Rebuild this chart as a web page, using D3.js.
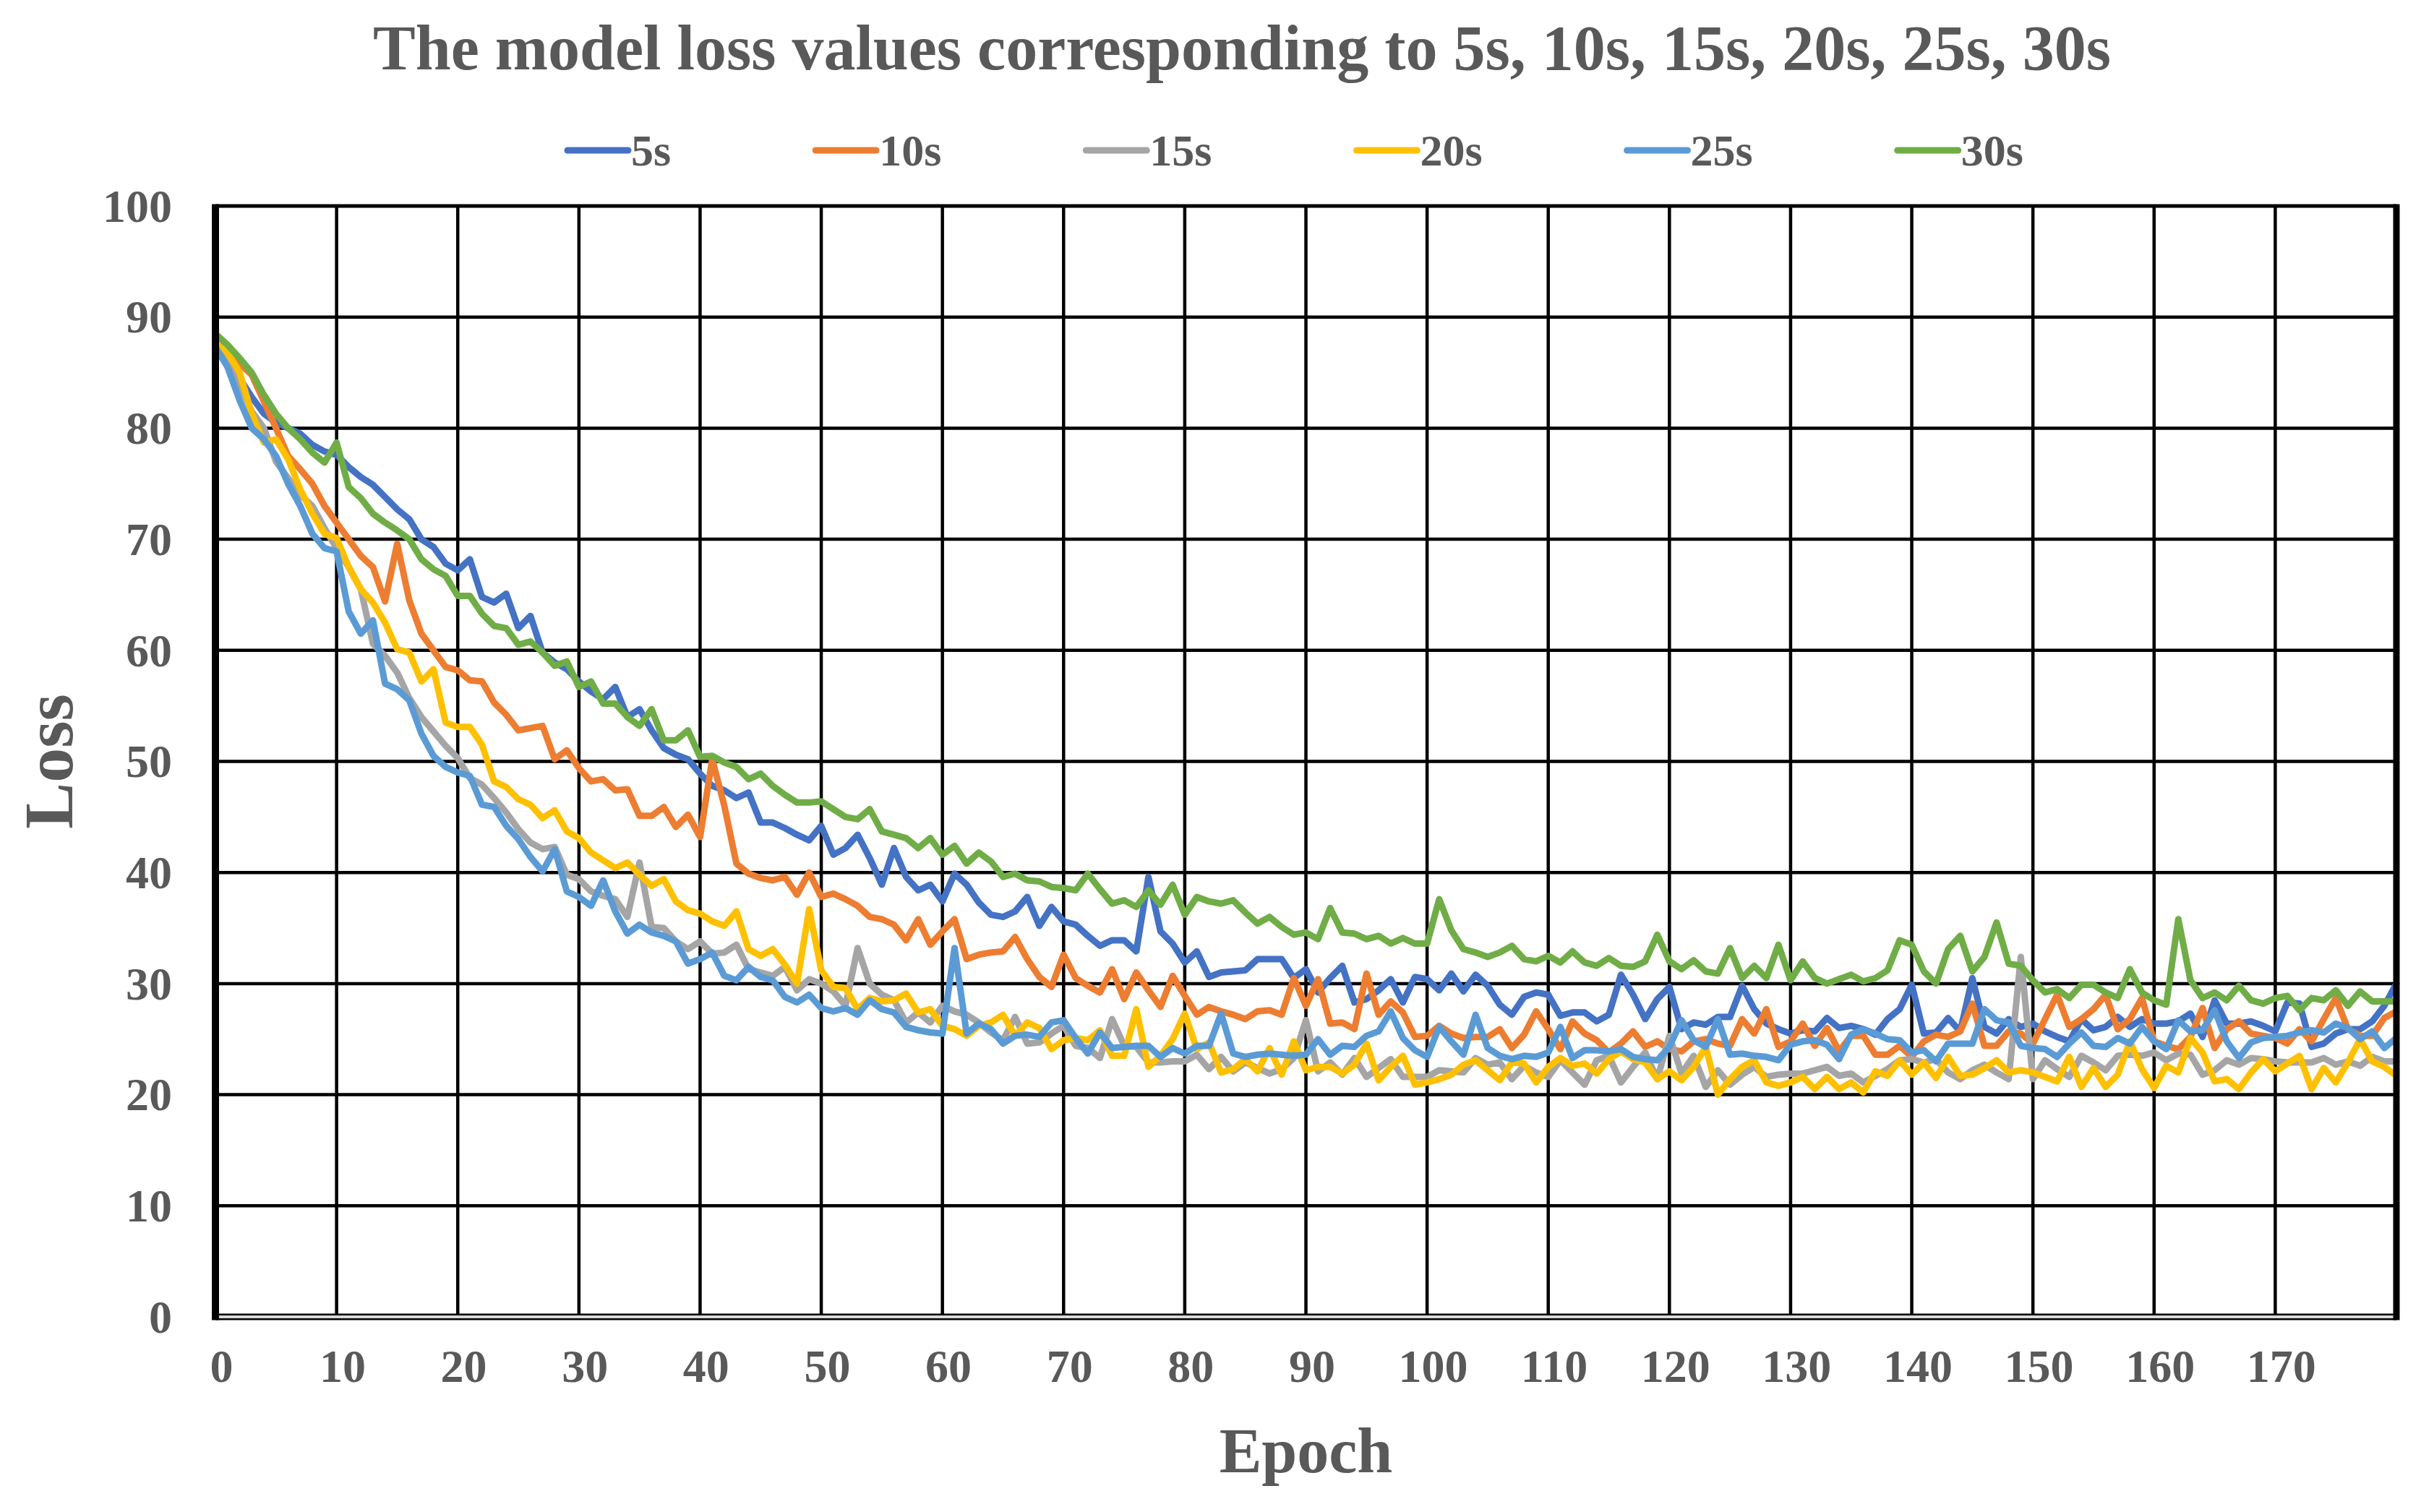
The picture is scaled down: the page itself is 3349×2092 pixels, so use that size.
<!DOCTYPE html>
<html>
<head>
<meta charset="utf-8">
<script src="https://cdn.jsdelivr.net/npm/d3@7"></script>
<style>
  html, body { margin: 0; padding: 0; background: #ffffff; }
  svg { display: block; }
  text { font-family: "Liberation Serif", "Times New Roman", serif; font-weight: bold; fill: #595959; }
</style>
</head>
<body>
<div id="chart"></div>
<script>
// series names and colours (legend order)
var seriesNames = ['5s', '10s', '15s', '20s', '25s', '30s'];
var seriesColors = ['#4472C4', '#ED7D31', '#A5A5A5', '#FFC000', '#5B9BD5', '#70AD47'];

// loss per epoch
var loss5s = [
  87.5, 86.5, 84.5, 82.8, 81.3, 80.5, 80, 79.5, 78.5, 77.9,
  77.6, 76.5, 75.6, 74.9, 73.8, 72.7, 71.8, 70, 69.3, 67.8,
  67.2, 68.2, 64.8, 64.3, 65.1, 62, 63.1, 59.8, 58.9, 58.3,
  57.2, 56.3, 55.6, 56.7, 54, 54.7, 52.8, 51.2, 50.6, 50.2,
  48.9, 47.8, 47.4, 46.7, 47.2, 44.5, 44.5, 44, 43.4, 42.9,
  44.2, 41.6, 42.2, 43.4, 41.3, 38.9, 42.2, 39.6, 38.4, 38.9,
  37.4, 39.9, 38.9, 37.3, 36.2, 36, 36.5, 37.8, 35.2, 36.9,
  35.6, 35.3, 34.3, 33.4, 33.9, 33.9, 32.9, 39.6, 34.7, 33.6,
  31.9, 32.9, 30.6, 31, 31.1, 31.2, 32.2, 32.2, 32.2, 30.5,
  31.3, 29.2, 30.5, 31.6, 28.3, 28.6, 29.4, 30.4, 28.3, 30.6,
  30.4, 29.4, 30.9, 29.3, 30.8, 29.8, 28.1, 27.2, 28.8, 29.2,
  29, 27.1, 27.4, 27.4, 26.6, 27.2, 30.8, 29, 26.8, 28.6,
  29.7, 25.9, 26.5, 26.3, 27, 27, 29.8, 27.7, 26.4, 25.9,
  25.5, 25.8, 25.7, 26.9, 26, 26.2, 25.9, 25.4, 26.8, 27.7,
  29.9, 25.5, 25.6, 26.9, 25.7, 30.5, 26.1, 25.5, 26.8, 26.1,
  26.4, 25.7, 25.2, 24.8, 26.8, 25.8, 26.1, 27, 26.1, 26.8,
  26.4, 26.4, 26.6, 27.3, 25.2, 28.5, 26.4, 26.4, 26.6, 26.2,
  25.7, 28.3, 28.2, 24.3, 24.6, 25.5, 25.9, 25.9, 26.6, 28, 30
];
var loss10s = [
  87.7, 87, 85.8, 84.8, 82.4, 80, 77.5, 76.3, 75, 73,
  71.5, 70, 68.5, 67.5, 64.4, 69.6, 64.5, 61.5, 60, 58.5,
  58.2, 57.3, 57.2, 55.3, 54.2, 52.8, 53, 53.2, 50.2, 51,
  49.4, 48.2, 48.4, 47.4, 47.5, 45.1, 45.1, 45.9, 44.1, 45.2,
  43.2, 50.2, 46, 40.8, 39.9, 39.5, 39.3, 39.6, 38, 40,
  37.8, 38.1, 37.6, 37, 36, 35.8, 35.3, 33.9, 35.8, 33.5,
  34.7, 35.8, 32.2, 32.6, 32.8, 32.9, 34.2, 32.2, 30.6, 29.7,
  32.6, 30.5, 29.8, 29.2, 31.3, 28.6, 31, 29.4, 27.9, 30.7,
  28.9, 27.2, 27.9, 27.5, 27.2, 26.8, 27.5, 27.6, 27.2, 30.5,
  28, 30.4, 26.4, 26.5, 25.9, 30.9, 27.2, 28.4, 27.4, 25.2,
  25.3, 26.2, 25.5, 25.1, 25.2, 25.2, 25.9, 24.2, 25.4, 27.5,
  25.9, 24.1, 26.6, 25.5, 24.9, 23.8, 24.6, 25.7, 24.3, 24.8,
  24.1, 23.9, 24.8, 25, 24.6, 24.4, 26.8, 25.5, 27.7, 24.3,
  24.8, 26.4, 24.4, 26, 23.9, 25.3, 25.3, 23.6, 23.6, 24.4,
  23.4, 24.8, 25.4, 25.2, 25.7, 28.2, 24.4, 24.4, 25.7, 25.5,
  24.6, 26.8, 29, 26.1, 26.8, 27.7, 29, 25.9, 26.8, 28.7,
  24.8, 24.4, 24.1, 25.2, 27.8, 24.2, 25.9, 26.6, 25.5, 25.3,
  25.1, 24.6, 25.9, 24.8, 26.8, 28.7, 25.9, 25.3, 25.3, 26.9, 27.5
];
var loss15s = [
  87.5, 86, 84, 81.5, 80, 77, 75.5, 74, 73, 71,
  69.2, 67.5, 65.5, 60.6, 59.5, 58, 55.7, 54, 52.7, 51.4,
  50.3, 48.5, 47.9, 46.7, 45.4, 43.9, 42.7, 42.1, 42.3, 39.8,
  39.4, 38.3, 37.9, 37.6, 36, 40.9, 35.1, 35, 33.8, 33.1,
  33.8, 32.7, 32.8, 33.5, 31.3, 31, 30.7, 31.5, 29.4, 30.4,
  30, 29.3, 28, 33.2, 30, 29, 28.5, 26.5, 27.4, 26.5,
  28, 27.5, 27.2, 26.5, 25.6, 24.9, 27, 24.6, 24.7, 25.5,
  26.2, 24.4, 24.2, 23.3, 26.8, 24.4, 24.3, 22.9, 22.9, 23,
  23, 23.6, 22.3, 23.4, 22.1, 22.9, 22.4, 21.9, 22.3, 23.3,
  26.7, 22.1, 22.9, 21.8, 23.3, 21.6, 22.4, 23.2, 21.6, 21.6,
  21.6, 22.2, 22.1, 22, 23.3, 22.7, 22.9, 21.4, 22.6, 22,
  21.6, 23.1, 22, 20.9, 23.1, 23.5, 21.1, 22.5, 23.8, 21.4,
  25.3, 21.9, 23.5, 20.7, 22.2, 20.9, 21.8, 22.5, 21.6, 21.8,
  21.9, 21.9, 22.2, 22.5, 21.7, 21.9, 21.1, 21.7, 22.3, 23.1,
  23.2, 22.9, 23.2, 22, 21.4, 22.2, 22.7, 22, 21.4, 32.4,
  21.4, 23.1, 22.3, 21.6, 23.5, 22.9, 22.2, 23.5, 23.6, 23.5,
  23.8, 23.1, 23.7, 23.6, 21.8, 22.2, 23.1, 22.7, 23.3, 23.2,
  23, 22.9, 22.9, 22.9, 23.3, 22.7, 23, 22.6, 23.4, 23, 23
];
var loss20s = [
  88, 86.8, 85, 81.3, 78.7, 79, 77.2, 74.5, 72.3, 70.5,
  70.1, 67.5, 65.5, 64.3, 62.5, 60.1, 59.8, 57.2, 58.3, 53.5,
  53.1, 53.1, 51.5, 48.2, 47.7, 46.6, 46.1, 44.9, 45.6, 43.7,
  43.1, 41.8, 41.1, 40.4, 40.9, 39.8, 38.8, 39.4, 37.4, 36.6,
  36.3, 35.6, 35.2, 36.5, 33.1, 32.5, 33.1, 31.7, 30, 36.7,
  31.2, 29.7, 29.6, 27.7, 28.7, 28.4, 28.5, 29.1, 27.4, 27.7,
  26.2, 25.9, 25.3, 26.2, 26.5, 27.2, 25.3, 26.5, 26, 24.1,
  24.9, 25.1, 24.9, 25.8, 23.5, 23.5, 27.7, 22.5, 23.5, 25,
  27.3, 24.1, 24.7, 22, 22.3, 23.2, 22.1, 24.2, 21.8, 24.8,
  22.2, 22.5, 22.5, 21.9, 22.7, 24.6, 21.3, 22.5, 23.5, 20.9,
  21.1, 21.4, 21.8, 22.7, 23.1, 22.2, 21.3, 22.9, 22.8, 21.1,
  22.5, 23.3, 22.6, 22.8, 21.9, 23.2, 23.9, 23.2, 22.9, 21.4,
  22.1, 21.3, 22.5, 24.3, 20, 21.4, 22.5, 23.1, 21.1, 20.8,
  21.1, 21.6, 20.5, 21.6, 20.5, 21.1, 20.2, 22.1, 21.7, 23.1,
  21.8, 22.9, 21.5, 23.4, 21.7, 21.8, 22.4, 23.1, 22, 22.2,
  22, 21.6, 21.2, 23.4, 20.7, 22.4, 20.7, 21.8, 24.8, 22.3,
  20.6, 22.6, 22, 25.1, 23.8, 21.2, 21.4, 20.5, 22, 23.2,
  22.1, 22.8, 23.5, 20.5, 22.4, 21.1, 22.9, 25, 23, 22.5, 21.7
];
var loss25s = [
  87.3, 85.5, 82.5, 80, 79, 77.5, 75, 73, 70.5, 69.2,
  68.9, 63.5, 61.5, 62.7, 57, 56.5, 55.5, 52.5, 50.5, 49.5,
  49, 48.7, 46.1, 45.9, 44.2, 43, 41.4, 40.1, 42.1, 38.3,
  37.8, 37, 39.3, 36.5, 34.5, 35.3, 34.6, 34.3, 33.8, 31.8,
  32.2, 32.8, 30.7, 30.3, 31.5, 30.6, 30.3, 28.8, 28.3, 29,
  27.8, 27.5, 27.8, 27.2, 28.5, 27.7, 27.4, 26.1, 25.8, 25.6,
  25.5, 33.2, 25.5, 26.4, 25.9, 24.6, 25.3, 25.4, 25.2, 26.5,
  26.7, 25.1, 23.7, 25.6, 24.2, 24.3, 24.4, 24.4, 23.4, 24.2,
  23.7, 24.4, 24.4, 27.3, 23.7, 23.4, 23.6, 23.7, 23.6, 23.5,
  23.6, 25, 23.6, 24.4, 24.3, 25.3, 25.7, 27.5, 25.1, 24,
  23.4, 26.1, 24.8, 23.6, 27.2, 24.2, 23.5, 23.2, 23.5, 23.4,
  23.8, 26.1, 23.3, 24, 24, 23.9, 24.1, 23.4, 23.2, 23.1,
  24.3, 26.7, 24.9, 24.3, 26.8, 23.6, 23.7, 23.5, 23.4, 23.1,
  24.5, 24.8, 24.9, 24.5, 23.2, 25.4, 25.9, 25.5, 25, 24.9,
  23.8, 24, 23, 24.6, 24.6, 24.6, 27.7, 26.7, 26.5, 24.4,
  24.2, 24.1, 23.4, 24.6, 25.6, 24.4, 24.3, 25.1, 24.6, 26.1,
  24.8, 24.1, 26.7, 25.7, 25.8, 27.6, 24.8, 23.3, 24.7, 25.1,
  25.2, 25.3, 25.6, 25.8, 25.6, 26.4, 26, 25, 25.7, 24.2, 25.1
];
var loss30s = [
  88.5, 87.5, 86.3, 85, 83, 81.3, 80, 79, 77.8, 76.9,
  78.7, 74.7, 73.7, 72.3, 71.5, 70.8, 70, 68.2, 67.3, 66.7,
  64.9, 64.9, 63.3, 62.2, 62, 60.5, 60.8, 59.8, 58.6, 59,
  56.7, 57.2, 55.2, 55.2, 54, 53.2, 54.7, 51.9, 51.9, 52.8,
  50.4, 50.5, 49.9, 49.5, 48.4, 48.9, 47.8, 47, 46.3, 46.3,
  46.4, 45.7, 45, 44.8, 45.7, 43.7, 43.4, 43.1, 42.2, 43.1,
  41.6, 42.4, 40.8, 41.8, 41, 39.6, 39.9, 39.3, 39.2, 38.7,
  38.6, 38.4, 39.9, 38.5, 37.2, 37.5, 36.9, 38.4, 37.1, 38.9,
  36.2, 37.8, 37.4, 37.2, 37.5, 36.4, 35.4, 36, 35.1, 34.4,
  34.6, 34, 36.8, 34.6, 34.5, 34, 34.3, 33.6, 34.1, 33.6,
  33.6, 37.6, 34.8, 33.1, 32.8, 32.4, 32.8, 33.4, 32.2, 32,
  32.5, 31.9, 32.9, 31.9, 31.6, 32.3, 31.6, 31.5, 32, 34.4,
  32, 31.3, 32.1, 31.1, 30.9, 33.2, 30.5, 31.6, 30.5, 33.5,
  30.3, 32, 30.5, 30, 30.4, 30.8, 30.2, 30.5, 31.2, 33.9,
  33.5, 31.1, 30, 33.1, 34.3, 31.1, 32.4, 35.5, 31.8, 31.6,
  30.3, 29.2, 29.5, 28.7, 29.9, 29.9, 29.2, 28.7, 31.3, 29.2,
  28.5, 28.1, 35.8, 30.3, 28.7, 29.2, 28.5, 29.8, 28.5, 28.2,
  28.7, 28.9, 27.6, 28.7, 28.5, 29.4, 28, 29.3, 28.4, 28.4, 28.4
];

// axis ticks
var xTickLabels = [0, 10, 20, 30, 40, 50, 60, 70, 80, 90, 100, 110, 120, 130, 140, 150, 160, 170];
var yTickLabels = [0, 10, 20, 30, 40, 50, 60, 70, 80, 90, 100];

var allSeries = [loss5s, loss10s, loss15s, loss20s, loss25s, loss30s];

// svg area
var svgWidth = 3349;
var svgHeight = 2092;

var plot = { left: 298, right: 3315, top: 285, bottom: 1822 };

var svg = d3.select('#chart')
  .append('svg')
  .attr('width', svgWidth)
  .attr('height', svgHeight);

svg.append('rect')
  .attr('width', svgWidth)
  .attr('height', svgHeight)
  .attr('fill', '#ffffff');

// scales
var xScale = d3.scaleLinear()
  .domain([0, loss5s.length - 1])
  .range([plot.left, plot.right]);

var yScale = d3.scaleLinear()
  .domain([0, 100])
  .range([plot.bottom, plot.top]);

var gridGroup = svg.append('g');

// horizontal gridlines
gridGroup.selectAll('.hgrid')
  .data(yTickLabels.filter(d => d > 0 && d < 100))
  .enter()
  .append('line')
  .attr('x1', plot.left)
  .attr('x2', plot.right)
  .attr('y1', d => yScale(d))
  .attr('y2', d => yScale(d))
  .attr('stroke', '#000')
  .attr('stroke-width', 4.5);

// vertical gridlines
gridGroup.selectAll('.vgrid')
  .data(xTickLabels.filter(d => d > 0))
  .enter()
  .append('line')
  .attr('x1', d => xScale(d))
  .attr('x2', d => xScale(d))
  .attr('y1', plot.top)
  .attr('y2', plot.bottom)
  .attr('stroke', '#000')
  .attr('stroke-width', 4.5);

// top border
gridGroup.append('line')
  .attr('x1', plot.left).attr('x2', plot.right)
  .attr('y1', yScale(100)).attr('y2', yScale(100))
  .attr('stroke', '#000').attr('stroke-width', 5);

// series lines
var line = d3.line()
  .x((d, i) => xScale(i))
  .y(d => yScale(d));

svg.append('g')
  .selectAll('path')
  .data(allSeries)
  .enter()
  .append('path')
  .attr('d', d => line(d))
  .attr('fill', 'none')
  .attr('stroke', (d, i) => seriesColors[i])
  .attr('stroke-width', 9)
  .attr('stroke-linejoin', 'round')
  .attr('stroke-linecap', 'round');

// bottom axis line (black with light grey core)
svg.append('line')
  .attr('x1', plot.left).attr('x2', plot.right)
  .attr('y1', yScale(0)).attr('y2', yScale(0))
  .attr('stroke', '#000').attr('stroke-width', 9);
svg.append('line')
  .attr('x1', plot.left).attr('x2', plot.right)
  .attr('y1', yScale(0)).attr('y2', yScale(0))
  .attr('stroke', '#d9d9d9').attr('stroke-width', 4);

// left and right borders
svg.append('line')
  .attr('x1', plot.left).attr('x2', plot.left)
  .attr('y1', plot.top - 2.5).attr('y2', plot.bottom + 4.5)
  .attr('stroke', '#000').attr('stroke-width', 10);
svg.append('line')
  .attr('x1', plot.right).attr('x2', plot.right)
  .attr('y1', plot.top - 2.5).attr('y2', plot.bottom + 4.5)
  .attr('stroke', '#000').attr('stroke-width', 9);

// y tick labels
svg.append('g')
  .selectAll('text')
  .data(yTickLabels)
  .enter()
  .append('text')
  .attr('x', 238)
  .attr('y', d => yScale(d))
  .attr('dy', '0.34em')
  .attr('text-anchor', 'end')
  .style('font-size', '64px')
  .text(d => d);

// x tick labels (centred on the category, like the original)
svg.append('g')
  .selectAll('text')
  .data(xTickLabels)
  .enter()
  .append('text')
  .attr('x', d => xScale(d + 0.5))
  .attr('y', 1912)
  .attr('text-anchor', 'middle')
  .style('font-size', '64px')
  .text(d => d);

// axis titles
svg.append('text')
  .attr('x', (plot.left + plot.right) / 2)
  .attr('y', 2037)
  .attr('text-anchor', 'middle')
  .style('font-size', '88px')
  .text('Epoch');

svg.append('text')
  .attr('transform', `translate(100, ${(plot.top + plot.bottom) / 2}) rotate(-90)`)
  .attr('text-anchor', 'middle')
  .style('font-size', '96px')
  .text('Loss');

// chart title
svg.append('text')
  .attr('x', 1718)
  .attr('y', 96)
  .attr('text-anchor', 'middle')
  .style('font-size', '88px')
  .text('The model loss values corresponding to 5s, 10s, 15s, 20s, 25s, 30s');

// legend
var legendGroup = svg.append('g');
var legendX = 781;
seriesNames.forEach(function(name, i) {
  var item = legendGroup.append('g')
    .attr('transform', `translate(${legendX}, 208)`);
  item.append('line')
    .attr('x1', 4).attr('x2', 88)
    .attr('y1', 0).attr('y2', 0)
    .attr('stroke', seriesColors[i])
    .attr('stroke-width', 9)
    .attr('stroke-linecap', 'round');
  var label = item.append('text')
    .attr('x', 92)
    .attr('y', 21)
    .style('font-size', '62px')
    .text(name);
  legendX += 92 + label.node().getComputedTextLength() + 196;
});
</script>
</body>
</html>
